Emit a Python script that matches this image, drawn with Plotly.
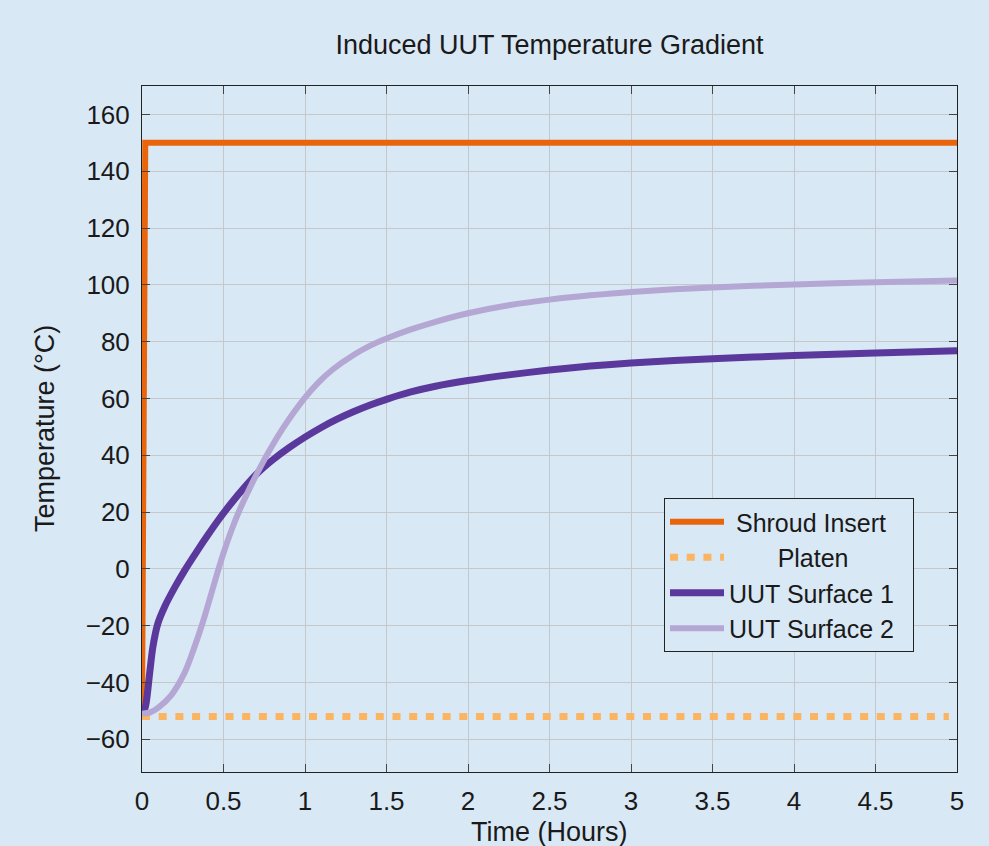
import plotly.graph_objects as go

# ---- data ----
shroud_t = [0, 0.02, 5.0]
shroud_v = [-50, 150, 150]

platen_t = [0, 4.95]
platen_v = [-52, -52]

s1_t = [0, 0.015, 0.026, 0.047, 0.067, 0.098, 0.139, 0.2, 0.262, 0.344, 0.405, 0.47,
        0.54, 0.63, 0.714, 0.8, 0.9, 1.0, 1.1, 1.2, 1.3, 1.4, 1.5, 1.65, 1.8, 2.0,
        2.25, 2.5, 2.75, 3.0, 3.5, 4.0, 4.5, 5.0]
s1_v = [-50, -49.5, -47, -36.7, -27.4, -19.1, -13.3, -6.6, -0.5, 6.8, 12, 17.3,
        22.6, 28.8, 34, 38.3, 42.6, 46.4, 49.8, 52.8, 55.4, 57.7, 59.7, 62.3, 64.3, 66.3,
        68.3, 70, 71.4, 72.5, 74, 75.1, 76, 76.8]

s2_t = [0, 0.05, 0.1, 0.18, 0.26, 0.32, 0.374, 0.414, 0.455, 0.5, 0.55, 0.6, 0.67,
        0.714, 0.78, 0.87, 1.0, 1.08, 1.17, 1.3, 1.4, 1.5, 1.65, 1.8, 2.0, 2.25,
        2.5, 2.75, 3.0, 3.5, 4.0, 4.5, 5.0]
s2_v = [-51, -50.5, -48.8, -44.4, -36.7, -27.8, -18.6, -10.9, -2.8, 5.6, 13.8, 20.9, 29.5,
        34.5, 41.5, 50, 60.3, 65.5, 70.2, 75.4, 78.6, 81.1, 84.3, 87, 90, 92.8,
        94.8, 96.3, 97.5, 99.1, 100.1, 100.9, 101.5]

x_ticks = [0, 0.5, 1, 1.5, 2, 2.5, 3, 3.5, 4, 4.5, 5]
y_ticks = [-60, -40, -20, 0, 20, 40, 60, 80, 100, 120, 140, 160]

legend_names = ["Shroud Insert", "Platen", "UUT Surface 1", "UUT Surface 2"]
title_text = "Induced UUT Temperature Gradient"
x_title = "Time (Hours)"
y_title = "Temperature (°C)"

BG = "#d9e8f5"
FONT = "Liberation Sans, Arial, sans-serif"
FS = 26
LFS = 25
TXT = "#1a1a1a"
NB = "\u00a0"

fig = go.Figure()
fig.add_trace(go.Scatter(x=shroud_t, y=shroud_v, mode="lines",
                         name=NB + legend_names[0],
                         line=dict(color="#e8650c", width=6)))
fig.add_trace(go.Scatter(x=platen_t, y=platen_v, mode="lines",
                         name=NB * 7 + legend_names[1],
                         line=dict(color="#fbb462", width=7, dash="8px,8.7px")))
fig.add_trace(go.Scatter(x=s1_t, y=s1_v, mode="lines", name=legend_names[2],
                         line=dict(color="#5b399c", width=7, shape="spline", smoothing=0.8)))
fig.add_trace(go.Scatter(x=s2_t, y=s2_v, mode="lines", name=legend_names[3] + NB * 2,
                         line=dict(color="#b4a7d4", width=6, shape="spline", smoothing=0.8)))

axis_common = dict(
    showline=True, linecolor="#222222", linewidth=1, mirror="ticks",
    ticks="inside", ticklen=8, tickcolor="#444444",
    showgrid=True, gridcolor="#c4c8cc", gridwidth=1,
    zeroline=False, ticklabelstandoff=6, automargin=False,
    tickfont=dict(family=FONT, size=FS, color=TXT),
)

fig.update_layout(
    width=989, height=846,
    paper_bgcolor=BG, plot_bgcolor=BG,
    margin=dict(l=142, r=32, t=86, b=74),
    title=dict(text=title_text, x=0.5, xref="paper",
               y=1 - 45 / 846, yanchor="middle",
               font=dict(family=FONT, size=27, color=TXT)),
    xaxis=dict(range=[0, 5], tickvals=x_ticks, ticktext=[str(v) for v in x_ticks],
               **axis_common),
    yaxis=dict(range=[-71.5, 170], tickvals=y_ticks, **axis_common),
    legend=dict(x=0.6405, y=0.3994, xanchor="left", yanchor="top",
                bgcolor=BG, bordercolor="#222222", borderwidth=1,
                font=dict(family=FONT, size=LFS, color=TXT),
                itemwidth=54),
    showlegend=True,
    annotations=[
        dict(text=x_title, xref="paper", yref="paper", x=0.5, y=(772 - 832) / 686,
             xanchor="center", yanchor="middle", showarrow=False,
             font=dict(family=FONT, size=27, color=TXT)),
        dict(text=y_title, xref="paper", yref="paper", x=(45 - 142) / 815, y=0.5,
             xanchor="center", yanchor="middle", showarrow=False, textangle=-90,
             font=dict(family=FONT, size=27, color=TXT)),
    ],
)

fig.write_html("out.html")
